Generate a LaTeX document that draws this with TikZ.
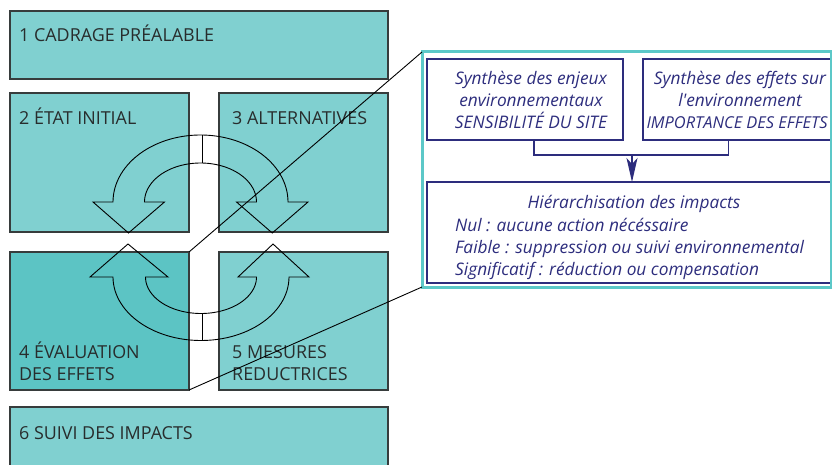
\documentclass[tikz,border=0pt]{standalone}
\usepackage{fontspec}
\setmainfont{Open Sans}
\usetikzlibrary{arrows.meta}
\definecolor{boxlight}{RGB}{128,208,208}
\definecolor{boxdark}{RGB}{92,196,196}
\definecolor{edgecol}{RGB}{55,60,60}
\definecolor{txtcol}{RGB}{40,45,45}
\definecolor{navy}{RGB}{45,45,125}
\definecolor{tealb}{RGB}{92,200,200}
\begin{document}
\begin{tikzpicture}[x=1pt,y=-1pt,
  stagebox/.style={draw=edgecol, line width=1.2pt, fill=boxlight, inner sep=0pt, outer sep=0pt, anchor=north west},
  stagetxt/.style={text=txtcol, inner sep=0pt, anchor=base west, font=\fontsize{17.9}{21}\selectfont},
  pbox/.style={draw=navy, line width=1.3pt, inner sep=0pt, outer sep=0pt, anchor=north west},
  ptxt/.style={text=navy, inner sep=0pt, anchor=base, font=\fontsize{17.3}{22}\selectfont\itshape},
  ptxtl/.style={ptxt, anchor=base west},
  cyc/.style={draw=black, line width=0.9pt, line join=miter}
]
\useasboundingbox (0,0) rectangle (832,465);
% stage boxes
\node[stagebox, minimum width=378pt, minimum height=68pt] (b1) at (10,11) {};
\node[stagebox, minimum width=179pt, minimum height=139pt] (b2) at (10,93) {};
\node[stagebox, minimum width=169pt, minimum height=139pt] (b3) at (219,93) {};
\node[stagebox, fill=boxdark, minimum width=179pt, minimum height=138pt] (b4) at (10,252) {};
\node[stagebox, minimum width=169pt, minimum height=138pt] (b5) at (219,252) {};
\node[stagebox, minimum width=378pt, minimum height=70pt] (b6) at (10,407) {};
% labels
\node[stagetxt] (t1) at (19,42) {1 CADRAGE PRÉALABLE};
\node[stagetxt] (t2) at (19,125) {2 ÉTAT INITIAL};
\node[stagetxt] (t3) at (232,125) {3 ALTERNATIVES};
\node[stagetxt] (t4a) at (19,358) {4 ÉVALUATION};
\node[stagetxt] (t4b) at (19,380) {DES EFFETS};
\node[stagetxt] (t5a) at (232,358) {5 MESURES};
\node[stagetxt] (t5b) at (232,380) {REDUCTRICES};
\node[stagetxt] (t6) at (19,439) {6 SUIVI DES IMPACTS};
% panel inner boxes
\node[pbox, minimum width=196pt, minimum height=81pt] (s1) at (427,59) {};
\node[pbox, minimum width=195pt, minimum height=81pt] (s2) at (643,59) {};
\node[pbox, minimum width=410pt, minimum height=101pt] (s3) at (427,182) {};
\node[draw=tealb, line width=3pt, inner sep=0pt, outer sep=0pt, anchor=north west,
      minimum width=409pt, minimum height=235pt] (panel) at (422,52) {};
% panel texts
\node[ptxt] (s1a) at (531,85) {Synthèse des enjeux};
\node[ptxt] (s1b) at (531,107) {environnementaux};
\node[ptxt] (s1c) at (531,129) {SENSIBILITÉ DU SITE};
\node[ptxt] (s2a) at (740,85) {Synthèse des effets sur};
\node[ptxt] (s2b) at (740,107) {l\textquotesingle environnement};
\node[ptxt, font=\fontsize{16.4}{22}\selectfont\itshape] (s2c) at (737,129) {IMPORTANCE DES EFFETS};
\node[ptxt] (s3a) at (634,208) {Hiérarchisation des impacts};
\node[ptxtl] (s3b) at (455,231) {Nul : aucune action nécéssaire};
\node[ptxtl] (s3c) at (455,253) {Faible : suppression ou suivi environnemental};
\node[ptxtl] (s3d) at (455,275) {Significatif : réduction ou compensation};
% panel connectors
\coordinate (j) at (632,155);
\draw[navy, line width=1.3pt] ([xshift=9pt]s1.south) |- (j) -| ([xshift=-12pt]s2.south);
\draw[navy, line width=1.3pt, -{Stealth[length=24pt, width=11pt, inset=6pt]}] (j) -- (j |- s3.north);
% zoom lines
\draw[black, line width=0.9pt] (b4.north east) -- (panel.north west);
\draw[black, line width=0.9pt] (b4.south east) -- (panel.south west);
% cycle arrows
\draw[cyc] (113,202) -- (93,202) -- (128.5,233) -- (164.5,202) -- (144.5,202)
  -- plot[variable=\t, domain=180:0, samples=60, smooth] ({200.5+56*cos(\t)},{202-39*sin(\t)})
  -- (236.5,202) -- (272.25,233) -- (308,202) -- (288,202)
  -- plot[variable=\t, domain=0:180, samples=60, smooth] ({200.5+87.5*cos(\t)},{202-67*sin(\t)})
  -- cycle;
\draw[cyc] (113,277) -- (90,277) -- (128,244) -- (168,277) -- (146,277)
  -- plot[variable=\t, domain=180:0, samples=60, smooth] ({201+55.5*cos(\t)},{277+36.5*sin(\t)})
  -- (238,277) -- (273,244) -- (309,277) -- (289,277)
  -- plot[variable=\t, domain=0:180, samples=60, smooth] ({201+88*cos(\t)},{277+63.5*sin(\t)})
  -- cycle;
\coordinate (d1) at (202,135.5);
\coordinate (d2) at (202,163);
\coordinate (d3) at (202,313.5);
\coordinate (d4) at (202,340.5);
\draw[cyc] (d1) -- (d2);
\draw[cyc] (d3) -- (d4);
\end{tikzpicture}
\end{document}
